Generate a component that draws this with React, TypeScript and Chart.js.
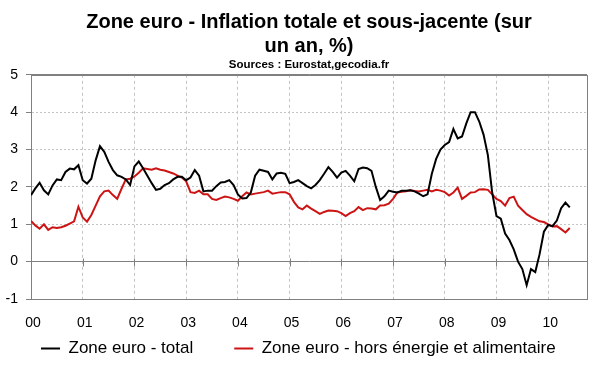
import React, { useEffect, useRef } from 'react';
import { Chart, registerables } from 'chart.js';

Chart.register(...registerables);

const yearLabels = ['00', '01', '02', '03', '04', '05', '06', '07', '08', '09', '10'];

const seriesNames = ['Zone euro - total', 'Zone euro - hors énergie et alimentaire'];
const titleLines = ['Zone euro - Inflation totale et sous-jacente (sur', 'un an, %)'];
const subtitleText = 'Sources : Eurostat,gecodia.fr';

// Monthly values, January 2000 to June 2010
const totalInflation = [
  1.78, 1.96, 2.11, 1.91, 1.80, 2.04, 2.20, 2.18, 2.40, 2.49, 2.47, 2.58,
  2.18, 2.09, 2.22, 2.71, 3.09, 2.94, 2.67, 2.45, 2.31, 2.27, 2.20, 2.05,
  2.55, 2.68, 2.50, 2.30, 2.10, 1.92, 1.95, 2.05, 2.10, 2.20, 2.27, 2.27,
  2.18, 2.25, 2.45, 2.30, 1.88, 1.90, 1.90, 2.02, 2.12, 2.13, 2.18, 2.05,
  1.80, 1.69, 1.70, 1.85, 2.30, 2.46, 2.43, 2.40, 2.20, 2.36, 2.38, 2.35,
  2.10, 2.13, 2.18, 2.10, 2.02, 1.96, 2.05, 2.18, 2.35, 2.53, 2.40, 2.25,
  2.38, 2.43, 2.30, 2.15, 2.48, 2.52, 2.50, 2.43, 2.00, 1.65, 1.75, 1.90,
  1.87, 1.85, 1.90, 1.90, 1.91, 1.88, 1.82, 1.75, 1.80, 2.35, 2.75, 3.00,
  3.12, 3.20, 3.55, 3.30, 3.35, 3.70, 4.00, 4.00, 3.75, 3.40, 2.85, 1.85,
  1.22, 1.15, 0.75, 0.58, 0.33, 0.00, -0.20, -0.63, -0.20, -0.28, 0.20, 0.80,
  0.98, 0.95, 1.10, 1.43, 1.58, 1.45,
];

const coreInflation = [
  1.09, 0.97, 0.88, 1.00, 0.85, 0.92, 0.90, 0.92, 0.96, 1.02, 1.08, 1.47,
  1.18, 1.07, 1.25, 1.50, 1.75, 1.88, 1.90, 1.78, 1.68, 1.95, 2.20, 2.22,
  2.28, 2.38, 2.50, 2.48, 2.46, 2.50, 2.46, 2.44, 2.40, 2.36, 2.30, 2.25,
  2.15, 1.86, 1.84, 1.90, 1.80, 1.80, 1.68, 1.65, 1.70, 1.74, 1.72, 1.68,
  1.63, 1.75, 1.85, 1.80, 1.82, 1.84, 1.86, 1.90, 1.82, 1.84, 1.86, 1.86,
  1.80, 1.60, 1.45, 1.40, 1.50, 1.42, 1.35, 1.28, 1.33, 1.37, 1.36, 1.35,
  1.30, 1.22, 1.30, 1.35, 1.46, 1.38, 1.43, 1.42, 1.40, 1.50, 1.51, 1.55,
  1.68, 1.85, 1.87, 1.88, 1.91, 1.89, 1.88, 1.90, 1.92, 1.88, 1.92, 1.90,
  1.86, 1.77, 1.85, 1.98, 1.68, 1.76, 1.85, 1.86, 1.93, 1.94, 1.92, 1.80,
  1.68, 1.62, 1.50, 1.70, 1.74, 1.50, 1.38, 1.27, 1.20, 1.14, 1.08, 1.06,
  1.00, 0.94, 0.95, 0.87, 0.78, 0.90,
];

const FONT = "'Liberation Sans', Arial, Helvetica, sans-serif";
const AXIS_GRAY = '#808080';
const GRID_GRAY = '#c4c4c4';

const toPoints = (values: number[]) => values.map((v, i) => ({ x: i / 12, y: v }));

const framePlugin = {
  id: 'frame',
  beforeDatasetsDraw(chart: any) {
    const { ctx, chartArea: a, scales } = chart;
    const xs = scales.x;
    const ys = scales.y;
    ctx.save();
    ctx.strokeStyle = AXIS_GRAY;
    ctx.lineWidth = 1;
    ctx.setLineDash([]);
    ctx.strokeRect(Math.round(a.left) + 0.5, Math.round(a.top) + 0.5, Math.round(a.right - a.left), Math.round(a.bottom - a.top));
    const y0 = Math.round(ys.getPixelForValue(0)) + 0.5;
    ctx.beginPath();
    xs.ticks.forEach((t: any) => {
      if (t.value > 0) {
        const px = Math.round(xs.getPixelForValue(t.value)) + 0.5;
        ctx.moveTo(px, y0 - 4);
        ctx.lineTo(px, y0 + 4);
      }
    });
    ctx.stroke();
    ctx.restore();
  },
};

export default function App() {
  const canvasRef = useRef<HTMLCanvasElement | null>(null);

  useEffect(() => {
    if (!canvasRef.current) return;
    const chart = new Chart(canvasRef.current, {
      type: 'line',
      data: {
        datasets: [
          {
            label: seriesNames[0],
            data: toPoints(totalInflation),
            borderColor: '#000000',
            backgroundColor: '#000000',
            borderWidth: 2,
            pointRadius: 0,
            tension: 0,
          },
          {
            label: seriesNames[1],
            data: toPoints(coreInflation),
            borderColor: '#cc1414',
            backgroundColor: '#cc1414',
            borderWidth: 2,
            pointRadius: 0,
            tension: 0,
          },
        ],
      },
      options: {
        animation: false,
        responsive: true,
        maintainAspectRatio: false,
        layout: { padding: { top: 0, left: 0, right: 0, bottom: 5 } },
        plugins: {
          title: {
            display: true,
            text: titleLines,
            color: '#000',
            fullSize: false,
            font: { family: FONT, size: 20, weight: 'bold', lineHeight: 1.2 },
            padding: { top: 10, bottom: 0 },
          },
          subtitle: {
            display: true,
            text: subtitleText,
            color: '#000',
            fullSize: false,
            font: { family: FONT, size: 11.5, weight: 'bold', lineHeight: 1.2 },
            padding: { top: 0, bottom: 3 },
          },
          legend: {
            position: 'bottom',
            align: 'start',
            labels: {
              usePointStyle: true,
              pointStyle: 'line',
              pointStyleWidth: 19,
              padding: 41,
              color: '#000',
              font: { family: FONT, size: 17 },
            },
          },
          tooltip: { enabled: false },
        },
        scales: {
          x: {
            type: 'linear',
            min: 0,
            max: 10.75,
            afterFit: (s: any) => {
              s.height = 0;
            },
            grid: {
              color: (c: any) => (c.tick && c.tick.value === 0 ? 'rgba(0,0,0,0)' : GRID_GRAY),
              lineWidth: 1,
              drawTicks: false,
            },
            border: {
              display: true,
              color: AXIS_GRAY,
              dash: (c: any) => (c.type === 'tick' ? [3, 3] : []),
            },
            ticks: {
              stepSize: 1,
              includeBounds: false,
              autoSkip: false,
              maxRotation: 0,
              mirror: true,
              padding: -32.4,
              labelOffset: 2,
              color: '#000',
              font: { family: FONT, size: 14 },
              callback: (v: any) => yearLabels[Math.round(Number(v))] ?? '',
            },
          },
          y: {
            min: -1,
            max: 5,
            afterFit: (s: any) => {
              s.width = 31;
            },
            grid: {
              color: (c: any) => {
                const v = c.tick ? c.tick.value : null;
                return v === 0 || v === 5 || v === -1 ? AXIS_GRAY : GRID_GRAY;
              },
              lineWidth: 1,
              drawTicks: true,
              tickLength: 5,
              tickColor: AXIS_GRAY,
            },
            border: {
              display: true,
              color: AXIS_GRAY,
              dash: (c: any) => {
                if (c.type !== 'tick') return [];
                const v = c.tick.value;
                return v === 0 || v === 5 || v === -1 ? [] : [2, 2];
              },
            },
            ticks: {
              stepSize: 1,
              padding: 8,
              color: '#000',
              font: { family: FONT, size: 14 },
            },
          },
          yRightMargin: {
            position: 'right',
            display: true,
            min: 0,
            max: 1,
            afterFit: (s: any) => {
              s.width = 13;
            },
            grid: { display: false, drawTicks: false },
            border: { display: false },
            ticks: { display: false },
          },
        },
      },
      plugins: [framePlugin],
    } as any);
    return () => chart.destroy();
  }, []);

  return (
    <div style={{ position: 'fixed', left: 0, top: 0, width: 600, height: 372, background: '#ffffff' }}>
      <canvas ref={canvasRef} />
    </div>
  );
}
